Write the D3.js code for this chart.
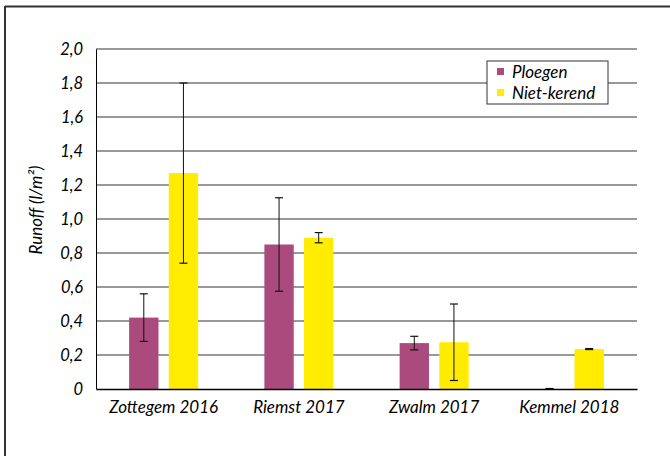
<!DOCTYPE html>
<html>
<head>
<meta charset="utf-8">
<script src="https://cdn.jsdelivr.net/npm/d3@7"></script>
<style>
  body { margin: 0; background: #fff; }
  text { font-family: Lato, sans-serif; font-style: italic; fill: #000; }
</style>
</head>
<body>
<svg width="670" height="456"></svg>
<script>
// data
const categories = ['Zottegem 2016', 'Riemst 2017', 'Zwalm 2017', 'Kemmel 2018'];
const seriesNames = ['Ploegen', 'Niet-kerend'];
const seriesColors = ['#AA4A7D', '#FFEC00'];
const ploegenVals = [0.42, 0.85, 0.27, 0.0];
const ploegenErr = [0.14, 0.275, 0.04, 0.003];
const nietKerendVals = [1.27, 0.89, 0.275, 0.235];
const nietKerendErr = [0.53, 0.03, 0.225, 0.003];
const yTicks = [0, 0.2, 0.4, 0.6, 0.8, 1.0, 1.2, 1.4, 1.6, 1.8, 2.0];

const svg = d3.select('svg');
const fontFam = 'Lato, sans-serif';

// frame (only top and left edges are visible in the crop)
svg.append('line').attr('x1', 5).attr('x2', 670).attr('y1', 6.5).attr('y2', 6.5)
   .style('stroke', '#333').style('stroke-width', 2);
svg.append('line').attr('x1', 5).attr('x2', 5).attr('y1', 6).attr('y2', 456)
   .style('stroke', '#333').style('stroke-width', 2);

const margin = {left: 96, right: 637, top: 49, bottom: 389};

const x = d3.scaleBand()
            .domain(categories)
            .range([margin.left, margin.right]);

const xSub = d3.scaleBand()
               .domain(seriesNames)
               .range([0, 69])
               .paddingInner(0.26);

const y = d3.scaleLinear()
            .domain([0, 2])
            .range([margin.bottom, margin.top]);

// gridlines
svg.append('g').selectAll('line')
   .data(yTicks.filter(d => d > 0))
   .enter()
   .append('line')
   .attr('x1', margin.left)
   .attr('x2', margin.right)
   .attr('y1', d => y(d))
   .attr('y2', d => y(d))
   .style('stroke', '#777')
   .style('stroke-width', '1.5px');

// y axis labels
const yAxis = d3.axisLeft(y)
                .tickValues(yTicks)
                .tickSize(0)
                .tickPadding(13)
                .tickFormat(d => d === 0 ? '0' : d3.format('.1f')(d).replace('.', ','));

const yG = svg.append('g')
              .attr('transform', `translate(${margin.left}, 0)`)
              .call(yAxis);
yG.select('.domain').style('stroke', '#000').style('stroke-width', '1px');
yG.selectAll('text')
  .style('font-size', '16.5px')
  .style('font-family', fontFam)
  .style('font-style', 'italic')
  .style('fill', '#000');

// bars
const series = [
  {name: seriesNames[0], vals: ploegenVals, err: ploegenErr, color: seriesColors[0]},
  {name: seriesNames[1], vals: nietKerendVals, err: nietKerendErr, color: seriesColors[1]}
];

const groupOffset = (x.bandwidth() - 69) / 2;

series.forEach(s => {
  const g = svg.append('g');
  g.selectAll('rect')
   .data(categories)
   .enter()
   .append('rect')
   .attr('x', d => x(d) + groupOffset + xSub(s.name))
   .attr('width', xSub.bandwidth())
   .attr('y', (d, i) => y(s.vals[i]))
   .attr('height', (d, i) => y(0) - y(s.vals[i]))
   .style('fill', s.color);

  // error bars
  const eg = g.selectAll('.err')
              .data(categories)
              .enter()
              .append('g')
              .attr('transform', d => `translate(${x(d) + groupOffset + xSub(s.name) + xSub.bandwidth() / 2}, 0)`);

  eg.append('line')
    .attr('y1', (d, i) => y(s.vals[i] + s.err[i]))
    .attr('y2', (d, i) => y(Math.max(0, s.vals[i] - s.err[i])))
    .style('stroke', '#111')
    .style('stroke-width', '1px');

  [1, -1].forEach(sign => {
    eg.append('line')
      .attr('x1', -4)
      .attr('x2', 4)
      .attr('y1', (d, i) => y(Math.max(0, s.vals[i] + sign * s.err[i])))
      .attr('y2', (d, i) => y(Math.max(0, s.vals[i] + sign * s.err[i])))
      .style('stroke', '#111')
      .style('stroke-width', '1.2px');
  });
});

// x axis
const xG = svg.append('g')
              .attr('transform', `translate(0, ${margin.bottom})`)
              .call(d3.axisBottom(x).tickSize(0).tickPadding(12));
xG.select('.domain').style('stroke', '#000').style('stroke-width', '1.5px');
xG.selectAll('text')
  .style('font-size', '17px')
  .style('font-family', fontFam)
  .style('font-style', 'italic')
  .style('fill', '#000');

// y title
svg.append('text')
   .attr('transform', 'translate(42, 210) rotate(-90)')
   .style('text-anchor', 'middle')
   .style('font-size', '17px')
   .text('Runoff  (l/m²)');

// legend
const legendG = svg.append('g')
                   .attr('transform', 'translate(487, 61)');
legendG.append('rect')
       .attr('width', 121)
       .attr('height', 43)
       .style('fill', '#fff')
       .style('stroke', '#333')
       .style('stroke-width', '1px');

const legItems = legendG.selectAll('.legItem')
                        .data(seriesNames)
                        .enter()
                        .append('g')
                        .attr('transform', (d, i) => `translate(10, ${11 + i * 21})`);
legItems.append('rect')
        .attr('x', 0)
        .attr('y', -4)
        .attr('width', 7)
        .attr('height', 7)
        .style('fill', (d, i) => seriesColors[i]);
legItems.append('text')
        .attr('x', 15)
        .attr('dy', '0.35em')
        .style('font-size', '17px')
        .text(d => d);
</script>
</body>
</html>
